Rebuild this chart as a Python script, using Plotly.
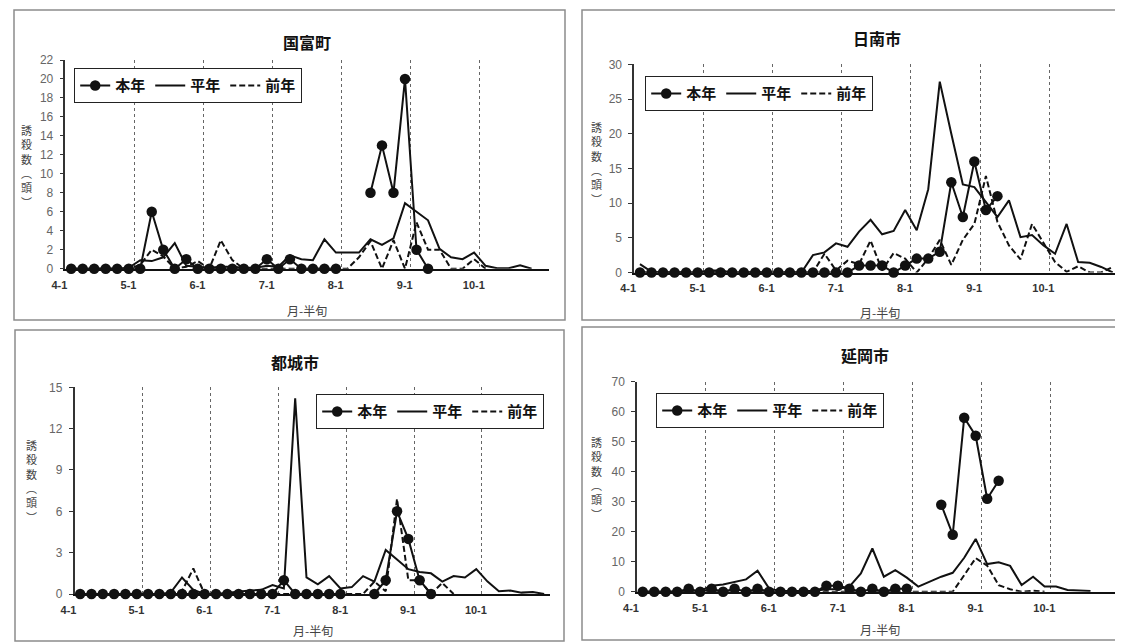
import plotly.graph_objects as go

# page offset of the figure inside the browser page (default body margin)
OFF = 8
W, H = 1123, 644
FW, FH = W - OFF, H - OFF

# ---------------- data ----------------
half_months = [f"{m}-{k}" for m in range(4, 11) for k in range(1, 7)]  # 42 categories
x_index = list(range(len(half_months)))
month_tick_labels = ["4-1", "5-1", "6-1", "7-1", "8-1", "9-1", "10-1", ""]
series_names = ["本年", "平年", "前年"]
titles = ["国富町", "日南市", "都城市", "延岡市"]
y_maxes = [22, 30, 15, 70]
y_dticks = [2, 5, 3, 10]
N = None

# 国富町
kunitomi_this = [0, 0, 0, 0, 0, 0, 0, 6, 2, 0, 1, 0, 0, 0, 0, 0, 0, 1, 0, 1, 0,
                 0, 0, 0, N, N, 8, 13, 8, 20, 2, 0, N, N, N, N, N, N, N, N, N, N]
kunitomi_avg = [0, 0, 0, 0, 0, 0.1, 0.9, 0.8, 1.2, 2.7, 0.3, 0.2, 0.1, 0.2, 0.2, 0.1,
                0.1, 0.3, 0.2, 1.4, 1.0, 0.9, 3.1, 1.7, 1.7, 1.7, 3.1, 2.5, 3.2, 6.9,
                6.0, 5.1, 2.1, 1.2, 1.0, 1.7, 0.3, 0.05, 0.05, 0.35, 0, N]
kunitomi_prev = [0, 0, 0, 0, 0, 0, 0.4, 2.0, 1.3, 0, 0.2, 0.8, 0, 3.0, 0.9, 0, 0, 0,
                 0, 0, 0, 0, 0, 0, 0, 1.2, 2.9, 0, 3.0, 0, 4.9, 2.0, 2.0, 0, 0, 1.0,
                 0, N, N, N, N, N]

# 日南市
nichinan_this = [0, 0, 0, 0, 0, 0, 0, 0, 0, 0, 0, 0, 0, 0, 0, 0, 0, 0, 0, 1, 1,
                 1, 0, 1, 2, 2, 3, 13, 8, 16, 9, 11, N, N, N, N, N, N, N, N, N, N]
nichinan_avg = [1.2, 0.1, 0, 0, 0, 0, 0.3, 0.3, 0, 0, 0, 0, 0, 0, 0, 2.5, 2.9, 4.2,
                3.7, 5.9, 7.6, 5.5, 6.0, 9.0, 6.1, 12.0, 27.5, 20.0, 12.7, 12.3, 10.2,
                8.0, 10.4, 5.1, 5.4, 3.9, 2.7, 7.0, 1.5, 1.4, 0.8, 0]
nichinan_prev = [0, 0, 0, 0, 0, 0, 0, 0, 0, 0, 0, 0, 0, 0, 0, 0, 2.7, 0.3, 1.7, 1.2,
                 4.6, 0.3, 2.8, 2.0, 0, 2.0, 4.7, 1.1, 4.7, 7.0, 13.9, 7.3, 3.9, 1.9,
                 7.0, 4.2, 1.5, 0.1, 0.9, 0, 0, 0.8]

# 都城市
miyakonojo_this = [0, 0, 0, 0, 0, 0, 0, 0, 0, 0, 0, 0, 0, 0, 0, 0, 0, 0, 1, 0, 0,
                   0, 0, 0, N, N, 0, 1, 6, 4, 1, 0, N, N, N, N, N, N, N, N, N, N]
miyakonojo_avg = [0, 0, 0, 0, 0, 0, 0, 0, 0.1, 1.2, 0.3, 0, 0, 0.1, 0.15, 0.25, 0.3,
                  0.65, 0.4, 14.2, 1.2, 0.7, 1.3, 0.4, 0.5, 1.3, 0.9, 3.2, 2.5, 1.8,
                  1.6, 1.5, 0.9, 1.3, 1.2, 1.8, 0.9, 0.2, 0.25, 0.1, 0.15, 0]
miyakonojo_prev = [0, 0, 0, 0, 0, 0, 0, 0, 0, 0.2, 1.85, 0, 0, 0, 0, 0, 0, 0, 0, 0,
                   0, 0, 0, 0, 0, 0, 0.9, 0.2, 6.9, 1.0, 1.0, 0, 0.8, 0, N, N, N, N,
                   N, N, N, N]

# 延岡市
nobeoka_this = [0, 0, 0, 0, 1, 0, 1, 0, 1, 0, 1, 0, 0, 0, 0, 0, 2, 2, 1, 0, 1,
                0, 1, 1, N, N, 29, 19, 58, 52, 31, 37, N, N, N, N, N, N, N, N, N, N]
nobeoka_avg = [0, 0, 0, 0, 0, 0.3, 2.0, 2.4, 3.3, 4.1, 7.0, 1.1, 0.2, 0.2, 0.2, 0.3,
               0.8, 0.9, 1.7, 6.1, 14.4, 5.0, 7.2, 4.7, 1.7, 3.3, 5.0, 6.3, 11.3,
               17.6, 9.2, 9.8, 8.6, 2.2, 5.0, 1.7, 1.7, 0.6, 0.3, 0.2, N, N]
nobeoka_prev = [0, 0, 0, 0, 0, 0, 0, 0, 0, 0, 0, 0, 0, 0, 0, 0, 0, 0, 0, 0, 0, 0, 0,
                0, 0, 0, 0, 0, 5.5, 11.2, 8.7, 2.2, 0.8, 0, 0.3, 0, N, N, N, N, N, N]

panel_series = [
    (kunitomi_this, kunitomi_avg, kunitomi_prev),
    (nichinan_this, nichinan_avg, nichinan_prev),
    (miyakonojo_this, miyakonojo_avg, miyakonojo_prev),
    (nobeoka_this, nobeoka_avg, nobeoka_prev),
]

# ---------------- layout geometry (page pixels) ----------------
plot_px = [(65.4, 548.9, 60.0, 268.7),
           (634.2, 1118.5, 64.3, 272.5),
           (74.5, 549.8, 387.3, 594.0),
           (637.0, 1119.2, 381.7, 591.7)]
box_px = [(14, 565, 10, 320), (582, 1130, 10, 320),
          (15, 564, 330, 641), (582, 1130, 327, 640)]
title_px = [(307, 42), (877, 38), (295, 362), (865, 355)]
xtitle_px = [(307, 311), (880, 312), (313, 630), (880, 629)]
ylabel_px = [(26, 166), (596.5, 163), (31, 481), (596.5, 478)]
legend_px = [(74, 68), (645, 76), (316, 394), (656, 393)]


def fx(v):
    return (v - OFF) / FW


def fy(v):
    return 1 - (v - OFF) / FH


JP = "Noto Sans CJK JP"
NUM = "Liberation Sans"
INK = "#111111"

fig = go.Figure()

boundaries = [-0.5 + 6 * k for k in range(8)]

layout = dict(
    template="none",
    width=FW, height=FH,
    margin=dict(l=0, r=0, t=0, b=0, autoexpand=False),
    paper_bgcolor="white", plot_bgcolor="white",
    showlegend=True,
)

annotations = []
shapes = []
ylabel_text = "<br>".join(["誘", "殺", "数", "︵", "頭", "︶"])

for p in range(4):
    sfx = "" if p == 0 else str(p + 1)
    xa, ya = "x" + sfx, "y" + sfx
    leg = "legend" + sfx
    this_y, avg_y, prev_y = panel_series[p]

    fig.add_trace(go.Scatter(
        x=x_index, y=prev_y, mode="lines", name=series_names[2],
        line=dict(color=INK, width=2, dash="6px,3px"),
        xaxis=xa, yaxis=ya, legend=leg, legendrank=3, cliponaxis=False,
        hoverinfo="skip"))
    fig.add_trace(go.Scatter(
        x=x_index, y=avg_y, mode="lines", name=series_names[1],
        line=dict(color=INK, width=2),
        xaxis=xa, yaxis=ya, legend=leg, legendrank=2, cliponaxis=False,
        hoverinfo="skip"))
    fig.add_trace(go.Scatter(
        x=x_index, y=this_y, mode="lines+markers", name=series_names[0],
        line=dict(color=INK, width=2),
        marker=dict(color=INK, size=10.5, symbol="circle"),
        xaxis=xa, yaxis=ya, legend=leg, legendrank=1, cliponaxis=False,
        hoverinfo="skip"))

    x0, x1, yt, yb = plot_px[p]
    layout["xaxis" + sfx] = dict(
        domain=[fx(x0), min(1, fx(x1))], anchor=ya, range=[-0.5, len(x_index) - 0.5],
        tickmode="array", tickvals=boundaries, ticktext=month_tick_labels,
        showgrid=True, gridcolor="#666666", griddash="dot", gridwidth=1,
        showline=True, linecolor="#111111", linewidth=1.5,
        ticks="", ticklabelshift=-6, ticklabelstandoff=5,
        tickfont=dict(family=NUM, size=11, color="#333333", weight="bold"),
        zeroline=False, fixedrange=True, automargin=False)
    layout["yaxis" + sfx] = dict(
        domain=[fy(yb), fy(yt)], anchor=xa, range=[0, y_maxes[p]],
        dtick=y_dticks[p], tick0=0,
        showgrid=False, showline=True, linecolor="#333333", linewidth=1.5,
        ticks="outside", ticklen=4, tickcolor="#333333", ticklabelstandoff=4,
        tickfont=dict(family=NUM, size=12, color="#666666"),
        zeroline=False, fixedrange=True, automargin=False)

    lx, ly = legend_px[p]
    layout[leg] = dict(
        x=fx(lx), y=fy(ly), xanchor="left", yanchor="top",
        orientation="h", bgcolor="white", bordercolor="#222222", borderwidth=1.2,
        font=dict(family=JP, size=15, color=INK, weight="bold"),
        traceorder="normal", itemwidth=30)

    bx0, bx1, by0, by1 = box_px[p]
    shapes.append(dict(type="rect", xref="paper", yref="paper",
                       x0=fx(bx0), x1=fx(bx1), y0=fy(by1), y1=fy(by0),
                       line=dict(color="#8c8c8c", width=1.5), layer="below"))

    tx, ty = title_px[p]
    annotations.append(dict(text=titles[p], x=fx(tx), y=fy(ty), xref="paper", yref="paper",
                            showarrow=False, xanchor="center", yanchor="middle",
                            font=dict(family=JP, size=16, color=INK, weight="bold")))
    ax_, ay_ = xtitle_px[p]
    annotations.append(dict(text="月-半旬", x=fx(ax_), y=fy(ay_), xref="paper", yref="paper",
                            showarrow=False, xanchor="center", yanchor="middle",
                            font=dict(family=JP, size=12, color="#444444")))
    vx, vy = ylabel_px[p]
    annotations.append(dict(text=ylabel_text, x=fx(vx), y=fy(vy), xref="paper", yref="paper",
                            showarrow=False, xanchor="center", yanchor="middle",
                            borderpad=0,
                            font=dict(family=JP, size=11, color="#444444")))

layout["annotations"] = annotations
layout["shapes"] = shapes
fig.update_layout(**layout)

fig.write_html("out.html")
